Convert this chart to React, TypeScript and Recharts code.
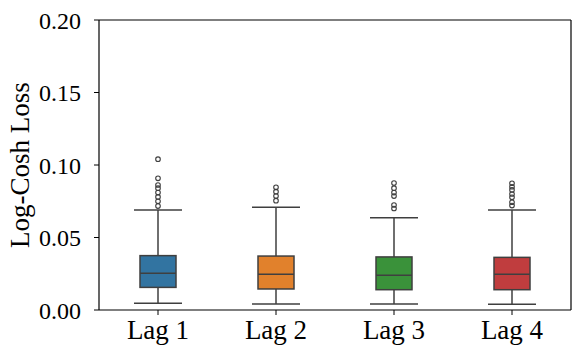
import React from "react";
import { ComposedChart, Bar, Scatter, XAxis, YAxis, ReferenceLine } from "recharts";

const lags = ["Lag 1", "Lag 2", "Lag 3", "Lag 4"];
const colors = ["#3274a1", "#e1812c", "#3a923a", "#c03d3e"];

const whiskerLow = [0.0046, 0.0041, 0.0041, 0.0039];
const q1 = [0.0156, 0.0145, 0.014, 0.014];
const median = [0.0253, 0.0246, 0.0239, 0.0246];
const q3 = [0.0375, 0.0372, 0.0366, 0.0363];
const whiskerHigh = [0.069, 0.0708, 0.0637, 0.069];

const outliers = [
  [0.104, 0.0908, 0.0862, 0.084, 0.081, 0.078, 0.075, 0.0717],
  [0.0846, 0.0816, 0.0786, 0.0754],
  [0.0876, 0.084, 0.081, 0.0786, 0.0724, 0.07],
  [0.0874, 0.085, 0.0828, 0.08, 0.0777, 0.0743, 0.072],
];

const yTicks = [0, 0.05, 0.1, 0.15, 0.2];

const boxData = lags.map((lag, i) => ({
  lag,
  lo: whiskerLow[i],
  q1: q1[i],
  med: median[i],
  q3: q3[i],
  hi: whiskerHigh[i],
  color: colors[i],
}));

const outlierData = lags.flatMap((lag, i) =>
  outliers[i].map((value) => ({ lag, value }))
);

const FONT = "'Liberation Serif', 'DejaVu Serif', serif";
const EDGE = "#3f3f3f";

const BoxShape = (props: any) => {
  const { x, y, width, height, payload } = props;
  const { lo, hi, q1, med, q3, color } = payload;
  // pixel position of a value inside the whisker range bar
  const py = (v: number) => y + (height * (hi - v)) / (hi - lo);
  const cx = x + width / 2;
  const cap = 24;
  return (
    <g stroke={EDGE} strokeWidth={1.5}>
      <line x1={cx} x2={cx} y1={py(hi)} y2={py(q3)} />
      <line x1={cx} x2={cx} y1={py(q1)} y2={py(lo)} />
      <line x1={cx - cap} x2={cx + cap} y1={py(hi)} y2={py(hi)} />
      <line x1={cx - cap} x2={cx + cap} y1={py(lo)} y2={py(lo)} />
      <rect x={x} y={py(q3)} width={width} height={py(q1) - py(q3)} fill={color} />
      <line x1={x} x2={x + width} y1={py(med)} y2={py(med)} />
    </g>
  );
};

const OutlierShape = (props: any) => (
  <circle cx={props.cx} cy={props.cy} r={2.3} fill="none" stroke={EDGE} strokeWidth={1.1} />
);

const YLabel = (props: any) => {
  const { viewBox } = props;
  const cy = viewBox.y + viewBox.height / 2;
  return (
    <text
      x={20}
      y={cy}
      transform={`rotate(-90, 20, ${cy})`}
      textAnchor="middle"
      dominantBaseline="central"
      fontFamily={FONT}
      fontSize={27}
      fill="#000"
    >
      Log-Cosh Loss
    </text>
  );
};

export default function App() {
  return (
    <div style={{ position: "absolute", left: 0, top: 0, background: "#fff" }}>
      <ComposedChart
        width={581}
        height={356}
        data={boxData}
        margin={{ top: 20, right: 10, bottom: 0, left: 0 }}
      >
        <XAxis
          dataKey="lag"
          allowDuplicatedCategory={false}
          height={46}
          axisLine={{ stroke: "#000", strokeWidth: 1.2 }}
          tickLine={{ stroke: "#000", strokeWidth: 1 }}
          tickSize={5}
          tickMargin={5}
          tick={{ fill: "#000", fontFamily: FONT, fontSize: 27 }}
        />
        <YAxis
          type="number"
          domain={[0, 0.2]}
          ticks={yTicks}
          width={99}
          tickFormatter={(v: number) => v.toFixed(2)}
          axisLine={{ stroke: "#000", strokeWidth: 1.2 }}
          tickLine={{ stroke: "#000", strokeWidth: 1 }}
          tickSize={5}
          tickMargin={13}
          tick={{ fill: "#000", fontFamily: FONT, fontSize: 24 }}
          label={<YLabel />}
        />
        {/* top and right spines */}
        <ReferenceLine y={0.2} stroke="#000" strokeWidth={1.2} />
        <ReferenceLine x="Lag 4" position="end" stroke="#000" strokeWidth={1.2} />
        <Bar
          dataKey={(d: any) => [d.lo, d.hi]}
          barSize={36}
          shape={<BoxShape />}
          isAnimationActive={false}
        />
        <Scatter
          data={outlierData}
          dataKey="value"
          shape={<OutlierShape />}
          isAnimationActive={false}
        />
      </ComposedChart>
    </div>
  );
}
